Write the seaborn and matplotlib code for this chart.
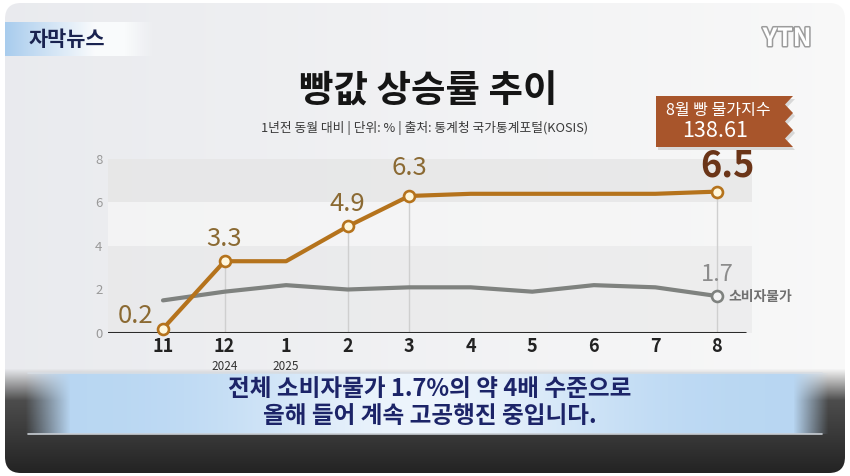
import numpy as np
import matplotlib.pyplot as plt
import matplotlib.patheffects as pe
from matplotlib.patches import FancyBboxPatch, Polygon
import seaborn as sns

# data
months = ['11', '12', '1', '2', '3', '4', '5', '6', '7', '8']
year_marks = ['', '2024', '2025', '', '', '', '', '', '', '']
bread = [0.2, 3.3, 3.3, 4.9, 6.3, 6.4, 6.4, 6.4, 6.4, 6.5]
cpi = [1.5, 1.9, 2.2, 2.0, 2.1, 2.1, 1.9, 2.2, 2.1, 1.7]
bread_marked = [0, 1, 3, 4, 9]
cpi_marked = [9]
yticks = [0, 2, 4, 6, 8]

title = '빵값 상승률 추이'
subtitle = '1년전 동월 대비 | 단위: % | 출처: 통계청 국가통계포털(KOSIS)'
badge_title = '8월 빵 물가지수'
badge_value = '138.61'
cpi_name = '소비자물가'
caption = ['전체 소비자물가 1.7%의 약 4배 수준으로', '올해 들어 계속 고공행진 중입니다.']

sns.set_theme(style='white')
plt.rcParams['font.family'] = ['Noto Sans CJK KR', 'DejaVu Sans']

W, H = 850, 476
fig = plt.figure(figsize=(8.5, 4.76), dpi=100)
fig.patch.set_facecolor('white')

# ---- background layer (pixel coordinates) ----
bg = fig.add_axes([0, 0, 1, 1])
bg.set_xlim(0, W)
bg.set_ylim(H, 0)
bg.axis('off')

t = np.linspace(0, 1, W)
left_c = np.array([0.915, 0.92, 0.935])
right_c = np.array([0.975, 0.975, 0.975])
row = left_c[None, :] * (1 - t[:, None]) + right_c[None, :] * t[:, None]
img = np.repeat(row[None, :, :], H, axis=0)
yy = np.arange(H)[:, None, None]
d = np.clip((yy - 368) / 32, 0, 1)
darkv = 0.30 - 0.17 * np.clip((yy - 400) / 76, 0, 1)
img = img * (1 - d) + darkv * d
im = bg.imshow(img, extent=(0, W, H, 0), zorder=0, aspect='auto')
frame = FancyBboxPatch((5, 3), 840, 470, boxstyle='round,pad=0,rounding_size=16',
                       facecolor='none', edgecolor='none')
bg.add_patch(frame)
im.set_clip_path(frame)

# caption band
bx0, bx1, by0, by1 = 22, 830, 373, 434
bw = bx1 - bx0
tb = np.linspace(0, 1, bw)
white = np.exp(-((tb - 0.5) / 0.22) ** 2)
blue = np.array([0.72, 0.84, 0.95])
light = np.array([0.93, 0.96, 0.99])
col = blue[None, :] * (1 - white[:, None]) + light[None, :] * white[:, None]
xs = np.arange(bw) + bx0
alpha = np.clip((xs - 25) / 45, 0, 1) * np.clip((828 - xs) / 35, 0, 1)
band = np.concatenate([col, alpha[:, None]], axis=1)
band = np.repeat(band[None, :, :], by1 - by0, axis=0)
bg.imshow(band, extent=(bx0, bx1, by1, by0), zorder=1, aspect='auto')
bg.plot([28, 822], [373, 373], color='#d8dde3', lw=1.2, zorder=2)
bg.plot([28, 822], [434, 434], color='#c9ced4', lw=1.2, zorder=2)
bg.text(430, 389, caption[0], ha='center', va='center', fontsize=17,
        fontweight='bold', color='#1c2468', zorder=3)
bg.text(430, 416, caption[1], ha='center', va='center', fontsize=17,
        fontweight='bold', color='#1c2468', zorder=3)

# top-left badge
tx = np.linspace(0, 1, 150)
bcol = np.array([0.66, 0.80, 0.93])[None, :] * (1 - np.clip(tx / 0.6, 0, 1))[:, None] \
    + np.array([0.98, 0.985, 0.99])[None, :] * np.clip(tx / 0.6, 0, 1)[:, None]
balpha = np.clip((1 - tx) / 0.2, 0, 1)
badge = np.concatenate([bcol, balpha[:, None]], axis=1)
badge = np.repeat(badge[None, :, :], 34, axis=0)
bg.imshow(badge, extent=(5, 155, 56, 22), zorder=1, aspect='auto')
bg.text(67, 40, '자막뉴스', ha='center', va='center', fontsize=15,
        fontweight='heavy', color='#1a2350', zorder=3)

# YTN logo
bg.text(787, 39, 'YTN', ha='center', va='center', fontsize=18, fontweight='bold',
        color='white', zorder=3,
        path_effects=[pe.withStroke(linewidth=2.2, foreground='#9c9c9c')])

# title
bg.text(428, 91, title, ha='center', va='center', fontsize=27,
        fontweight='heavy', color='#151515', zorder=3)
bg.text(425, 128, subtitle, ha='center', va='center', fontsize=9.2,
        color='#3a3a3a', zorder=3)

# index badge with wavy right edge
wave_y = np.linspace(96, 147, 13)
wave_x = 789 + 4 * np.cos(np.linspace(0, 6 * np.pi, 13))
poly = [(656, 96)] + list(zip(wave_x, wave_y)) + [(656, 147)]
shadow = [(p[0] + 2, p[1] + 3) for p in poly]
bg.add_patch(Polygon(shadow, closed=True, facecolor='#000000', alpha=0.12, lw=0, zorder=2))
bg.add_patch(Polygon(poly, closed=True, facecolor='#a8552b', lw=0, zorder=3))
bg.text(718, 111, badge_title, ha='center', va='center', fontsize=11.5,
        color='white', zorder=4)
bg.text(715, 131, badge_value, ha='center', va='center', fontsize=15.5,
        color='white', zorder=4)

# ---- chart ----
ax = fig.add_axes([108 / W, 1 - 333 / H, (752 - 108) / W, (333 - 159) / H])
ax.patch.set_alpha(0)
x = np.arange(len(months))
step = 61.55
ax.set_xlim((108 - 163) / step, (752 - 163) / step)
ax.set_ylim(0, 8)

ax.axhspan(6, 8, color='#e6e6e6', alpha=0.8, lw=0, zorder=0)
ax.axhspan(4, 6, color='#f6f6f6', alpha=0.8, lw=0, zorder=0)
ax.axhspan(0, 4, color='#e8e8e8', alpha=0.6, lw=0, zorder=0)

for i in bread_marked[1:]:
    ax.vlines(x[i], 0, bread[i], color='#cfcfcf', lw=1, zorder=1)

ax.axhline(0, xmin=0, xmax=(745 - 108) / (752 - 108), color='#2b2b2b', lw=2.2, zorder=2)

sns.lineplot(x=x, y=cpi, color='#7f827f', lw=3, ax=ax, zorder=3)
sns.lineplot(x=x, y=bread, color='#b5731c', lw=3, ax=ax, zorder=4)
sns.scatterplot(x=x[bread_marked], y=np.array(bread)[bread_marked], s=62,
                color='#fff7dc', edgecolor='#b5731c', linewidth=1.9, ax=ax,
                zorder=5, clip_on=False)
sns.scatterplot(x=x[cpi_marked], y=np.array(cpi)[cpi_marked], s=62,
                color='#f4f4f4', edgecolor='#7f827f', linewidth=1.9, ax=ax,
                zorder=5, clip_on=False)

# value labels
offsets = {0: (-27, 13), 1: (0, 22), 3: (0, 22), 4: (0, 28), 9: (10, 26)}
for i in bread_marked:
    last = i == len(months) - 1
    ax.annotate(f'{bread[i]:.1f}', xy=(x[i], bread[i]), xytext=offsets[i],
                textcoords='offset pixels', ha='center', va='center',
                fontsize=26 if last else 18.5, fontweight='bold' if last else 'medium',
                color='#6b3518' if last else '#8b6a33', zorder=6, annotation_clip=False)
for i in cpi_marked:
    ax.annotate(f'{cpi[i]:.1f}', xy=(x[i], cpi[i]), xytext=(0, 22),
                textcoords='offset pixels', ha='center', va='center',
                fontsize=17, color='#8c8c8c', zorder=6, annotation_clip=False)
    ax.annotate(cpi_name, xy=(x[i], cpi[i]), xytext=(11, -1),
                textcoords='offset pixels', ha='left', va='center',
                fontsize=10, fontweight='bold', color='#707070', zorder=6,
                annotation_clip=False)

for i, yl in enumerate(year_marks):
    if yl:
        ax.annotate(yl, xy=(x[i], 0), xytext=(0, -33), textcoords='offset pixels',
                    ha='center', va='center', fontsize=8.5, color='#333333',
                    annotation_clip=False)

sns.despine(ax=ax, left=True, bottom=True)
ax.grid(False)
ax.set_xticks(x)
ax.set_xticklabels(months, fontsize=13, fontweight='bold', color='#222222')
ax.set_yticks(yticks)
ax.set_yticklabels([str(v) for v in yticks], fontsize=9.5, color='#9a9a9a')
ax.tick_params(axis='x', length=0, pad=3)
ax.tick_params(axis='y', length=0, pad=4)
ax.set_xlabel('')
ax.set_ylabel('')

fig.savefig('out.png', dpi=100)
